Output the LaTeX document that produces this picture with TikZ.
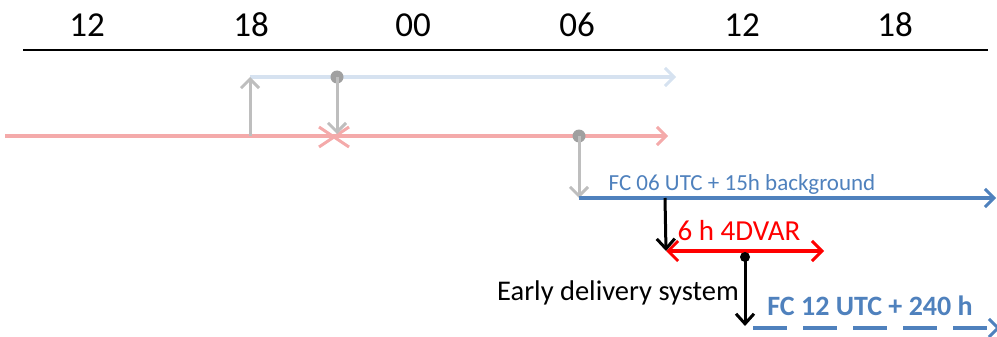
\documentclass[tikz,border=0pt]{standalone}
\usepackage{fontspec}
\setmainfont{Carlito}
\usetikzlibrary{arrows.meta,calc}
\definecolor{lblue}{RGB}{214,226,240}
\definecolor{pinkc}{RGB}{244,170,170}
\definecolor{grayc}{RGB}{190,190,190}
\definecolor{dgray}{RGB}{160,160,160}
\definecolor{fcblue}{RGB}{79,129,189}
\tikzset{
  hourlbl/.style={font=\fontsize{35}{40}\selectfont, inner sep=0pt, anchor=base},
  barb/.style={-{Straight Barb[length=9pt,width=18pt,line width=3pt]}},
  lbluearr/.style={lblue, line width=3.5pt, barb},
  pinkarr/.style={pinkc, line width=3.5pt, barb},
  grayarr/.style={grayc, line width=3pt, barb},
  bluearr/.style={fcblue, line width=3.5pt, barb},
  blackarr/.style={black, line width=3pt, -{Straight Barb[length=10pt,width=18pt,line width=3pt]}},
  redarr/.style={red, line width=3.5pt, {Straight Barb[length=10pt,width=20pt,line width=3pt]}-{Straight Barb[length=10pt,width=20pt,line width=3pt]}},
  dot/.style={circle, fill, inner sep=0pt, minimum size=#1},
  lbl/.style={inner sep=0pt, anchor=base},
}
\begin{document}
\begin{tikzpicture}[x=1pt,y=-1pt]
\useasboundingbox (0,0) rectangle (997,337);
% time axis
\node[hourlbl] (h1) at (87,37) {12};
\node[hourlbl] (h2) at (251,37) {18};
\node[hourlbl] (h3) at (413,37) {00};
\node[hourlbl] (h4) at (577,37) {06};
\node[hourlbl] (h5) at (742,37) {12};
\node[hourlbl] (h6) at (895,37) {18};
\coordinate (axL) at (23,50);
\coordinate (axR) at (988,50);
\draw[line width=2pt] (axL) -- (axR);
% previous cycles (faded)
\coordinate (pinkL) at (5,136);
\coordinate (pinkR) at (668,136);
\coordinate (up0) at (250,136);
\coordinate (lbL) at (250,77);
\coordinate (lbR) at (676,77);
\coordinate (xc) at (334,137);
\coordinate (xt) at (337,134);
\draw[pinkarr] (pinkL) -- (pinkR);
\draw[lbluearr] (lbL) -- (lbR);
\draw[grayarr] (up0) -- (lbL);
\draw[pinkc, line width=3pt] ($(xc)+(-15,-10)$) -- ($(xc)+(15,10)$);
\draw[pinkc, line width=3pt] ($(xc)+(-15,10)$) -- ($(xc)+(15,-10)$);
\node[dot=13pt, fill=dgray] (gd1) at (337,77) {};
\draw[grayarr] (gd1.center) -- (xt);
\node[dot=13pt, fill=dgray] (gd2) at (579,136) {};
\coordinate (fcL) at (579,198);
\coordinate (fcR) at (996,198);
\draw[grayarr] (gd2.center) -- (fcL);
% current forecast
\draw[bluearr] (fcL) -- (fcR);
\node[lbl, text=fcblue, font=\fontsize{23}{26}\selectfont] (fc06) at (742,190) {FC 06 UTC + 15h background};
\coordinate (bk1) at (665,198);
\coordinate (vL) at (666,251);
\coordinate (vR) at (824,251);
\draw[redarr] (vL) -- (vR);
\draw[blackarr] (bk1) -- (vL);
\node[lbl, text=red, font=\fontsize{29}{32}\selectfont] (var) at (739,240) {6 h 4DVAR};
\node[dot=10pt, fill=black] (bd) at (745,257) {};
\coordinate (eds) at (745,326);
\draw[blackarr] (bd.center) -- (eds);
\node[lbl, font=\fontsize{28.5}{32}\selectfont] (early) at (618,300) {Early delivery system};
\coordinate (dL) at (753,328);
\coordinate (dR) at (1000,328);
\draw[bluearr, dash pattern=on 34pt off 16pt] (dL) -- (dR);
\node[lbl, text=fcblue, font=\bfseries\fontsize{28}{31}\selectfont] (fc12) at (870,315) {FC 12 UTC + 240 h};
\end{tikzpicture}
\end{document}
